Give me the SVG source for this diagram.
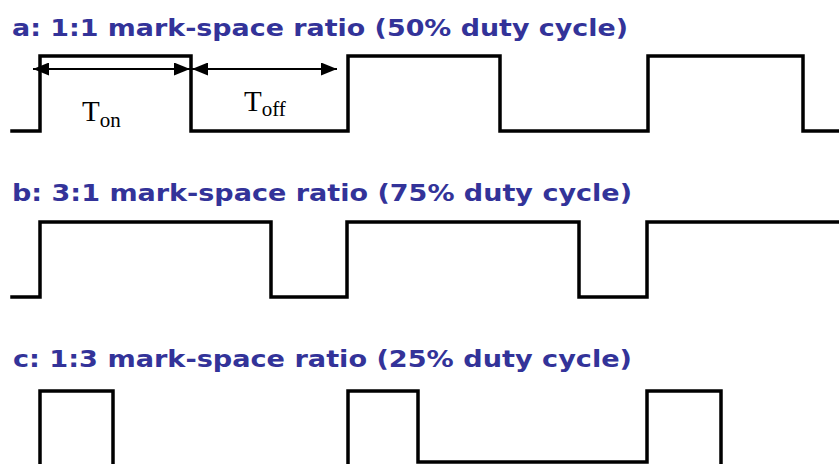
<svg xmlns="http://www.w3.org/2000/svg" width="839" height="464" viewBox="0 0 839 464">
  <defs>
    <style>
      .title { font-family: "DejaVu Sans", Verdana, sans-serif; font-weight: bold; font-size: 22.5px; fill: #333399; }
      .wave { fill: none; stroke: #000; stroke-width: 3.5; stroke-linejoin: miter; stroke-linecap: square; }
      .dim { fill: none; stroke: #000; stroke-width: 2.2; }
      .lbl { font-family: "Liberation Serif", "Times New Roman", serif; fill: #000; }
    </style>
    <marker id="ah" viewBox="0 0 16 13" refX="16" refY="6.5" markerWidth="16" markerHeight="13" markerUnits="userSpaceOnUse" orient="auto-start-reverse">
      <path d="M0,0 L16,6.5 L0,13 Z" fill="#000"/>
    </marker>
  </defs>
  <rect width="839" height="464" fill="#fff"/>

  <!-- a: 50% duty cycle -->
  <g id="wave-a">
    <text class="title" x="12" y="36" textLength="616" lengthAdjust="spacingAndGlyphs">a: 1:1 mark-space ratio (50% duty cycle)</text>
    <path class="wave" d="M12,131 H40 V56 H191 V131 H348 V56 H500 V131 H648 V56 H803 V131 H841"/>
  </g>

  <!-- on/off period dimensions -->
  <g id="connectors">
    <line class="dim" x1="33" y1="69" x2="190" y2="69" marker-start="url(#ah)" marker-end="url(#ah)"/>
    <line class="dim" x1="192" y1="69" x2="337" y2="69" marker-start="url(#ah)" marker-end="url(#ah)"/>
  </g>
  <g id="label-ton">
    <text class="lbl" x="82" y="121" font-size="29">T<tspan font-size="21" dy="6">on</tspan></text>
  </g>
  <g id="label-toff">
    <text class="lbl" x="244" y="111" font-size="29">T<tspan font-size="21" dy="5">off</tspan></text>
  </g>

  <!-- b: 75% duty cycle -->
  <g id="wave-b">
    <text class="title" x="12" y="201" textLength="620" lengthAdjust="spacingAndGlyphs">b: 3:1 mark-space ratio (75% duty cycle)</text>
    <path class="wave" d="M12,297 H40 V222 H271 V297 H347 V222 H579 V297 H647 V222 H841"/>
  </g>

  <!-- c: 25% duty cycle -->
  <g id="wave-c">
    <text class="title" x="13" y="367" textLength="619" lengthAdjust="spacingAndGlyphs">c: 1:3 mark-space ratio (25% duty cycle)</text>
    <path class="wave" d="M12,470 H40 V391 H113 V470 H348 V391 H418 V462 H647 V391 H721 V470 H841"/>
  </g>
</svg>
